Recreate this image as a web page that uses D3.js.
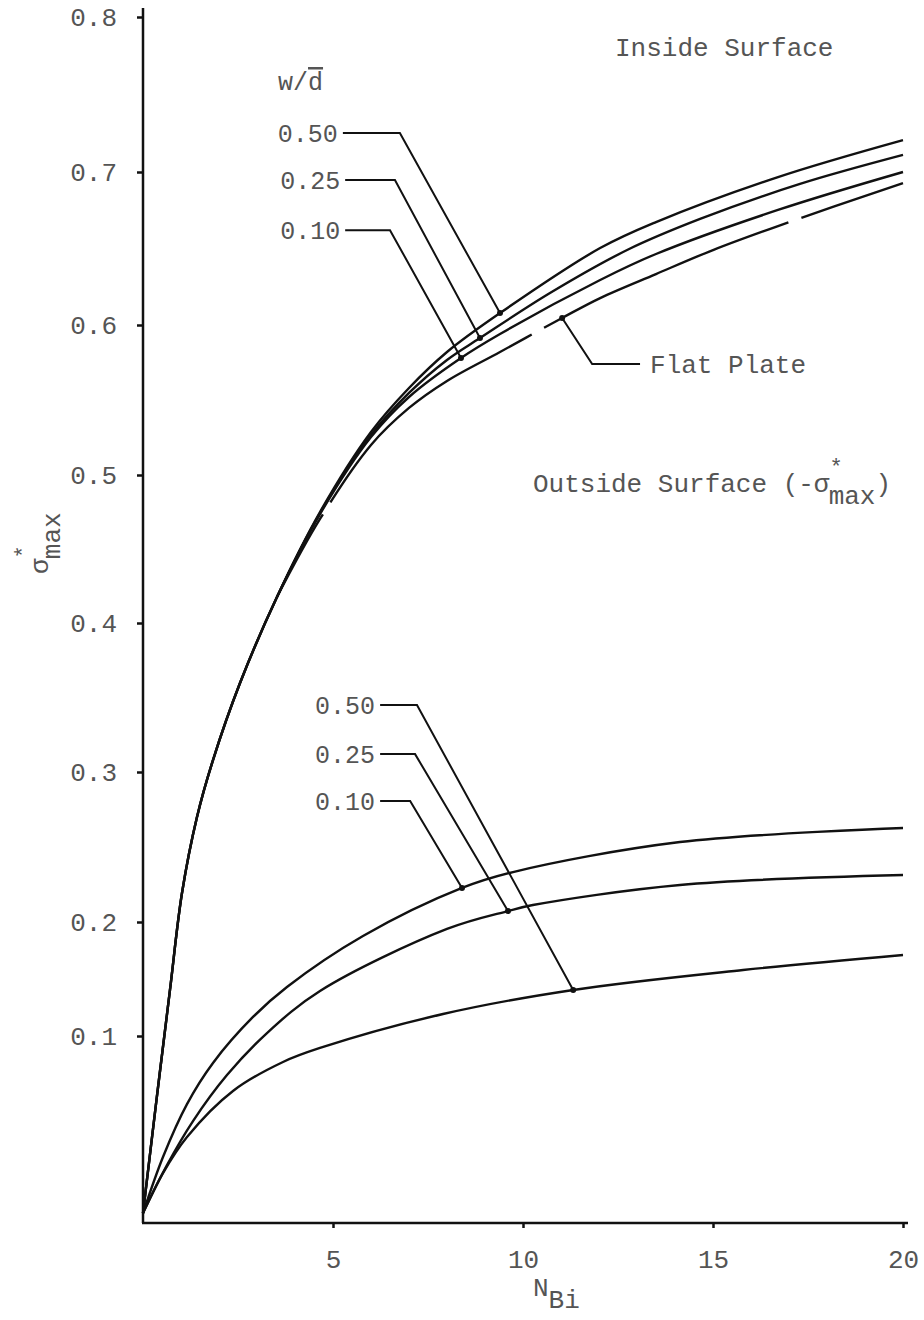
<!DOCTYPE html>
<html><head><meta charset="utf-8">
<script src="https://cdn.jsdelivr.net/npm/d3@7"></script>
<style>
body{margin:0;background:#fff;}
text{font-family:"Liberation Mono","DejaVu Sans Mono",monospace;fill:#555;}
</style></head>
<body><svg id="c" width="924" height="1320"></svg>
<script>
// ---- data ----
const yTicks = [0.1,0.2,0.3,0.4,0.5,0.6,0.7,0.8];
const xTicks = [5,10,15,20];
const insideCommon = [[0,0.0053],[0.355,0.0658],[0.71,0.1404],[1.026,0.2193],[1.421,0.27],[1.842,0.308],[2.553,0.3597],[3.526,0.4176]];
const inside050 = insideCommon.concat([[4.658,0.475],[6.0,0.5287],[7.0,0.558],[8.0,0.582],[9.395,0.6078],[12.03,0.6503],[13.5,0.6673],[16.71,0.6967],[20,0.7206]]);
const inside025 = insideCommon.concat([[4.658,0.4743],[6.0,0.5267],[7.0,0.5547],[8.0,0.5767],[8.868,0.5913],[10.71,0.6209],[12.74,0.649],[14.66,0.6693],[17.29,0.6922],[20,0.711]]);
const inside010 = insideCommon.concat([[4.658,0.4736],[6.0,0.5253],[7.0,0.552],[8.368,0.578],[9.395,0.594],[12.03,0.6294],[13.5,0.6464],[16.71,0.6752],[20,0.700]]);
const flatPlate = [[3.526,0.4176],[4.658,0.4703],[6.0,0.52],[7.0,0.5447],[8.0,0.5627],[9.395,0.582],[11.03,0.6046],[12.03,0.6176],[13.5,0.6333],[15.0,0.649],[16.71,0.6647],[20,0.6928]];
const outside010 = [[0,0.0053],[0.526,0.0353],[1.158,0.0636],[1.842,0.0856],[2.895,0.1167],[3.789,0.143],[5.789,0.1877],[8.395,0.2227],[9.737,0.2333],[14.13,0.2533],[20,0.2627]];
const outside025 = [[0,0.0053],[0.632,0.031],[1.316,0.0545],[2.21,0.0791],[3.263,0.1026],[4.658,0.1395],[8.0,0.1939],[9.605,0.2073],[10.26,0.2113],[14.13,0.2247],[20,0.2313]];
const outside050 = [[0,0.0053],[0.526,0.0267],[1.158,0.046],[2.368,0.0706],[3.684,0.0861],[4.658,0.0936],[7.895,0.1193],[11.32,0.1404],[15.79,0.1579],[20,0.1711]];
// leader annotations: [label, textV, startN, elbowN, targetN, targetV]
const insideLabels = [["0.50",0.7252,5.26,6.76,9.395,0.6078],["0.25",0.6948,5.32,6.63,8.868,0.5913],["0.10",0.662,5.32,6.5,8.368,0.578]];
const outsideLabels = [["0.50",0.345,6.24,7.21,11.32,0.1404],["0.25",0.312,6.24,7.16,9.605,0.2073],["0.10",0.2807,6.24,7.03,8.395,0.2227]];
const flatLeader = [[11.03,0.6046],[11.82,0.574],[13.08,0.574]];
const flatGapsN = [10.39,17.16];

// ---- scales ----
const svg = d3.select("#c");
const x = d3.scaleLinear().domain([0,20]).range([143,903]);
const y = d3.scaleLinear().domain([0,0.1,0.2,0.3,0.4,0.5,0.6,0.7,0.8]).range([1223,1036,922,772,623,475,325,172,17]);

// axes
const ya = svg.append("g").attr("transform","translate(143,0)")
  .call(d3.axisLeft(y).tickValues(yTicks).tickSize(6).tickPadding(20).tickFormat(d3.format(".1f")));
const xa = svg.append("g").attr("transform","translate(0,1223)")
  .call(d3.axisBottom(x).tickValues(xTicks).tickSize(5).tickPadding(22).tickFormat(d3.format("d")));
[ya,xa].forEach(g=>{
  g.select(".domain").remove();
  g.selectAll(".tick line").attr("stroke","#111").attr("stroke-width",2.5);
  g.selectAll(".tick text").style("font-family","Liberation Mono").style("font-size","26px").attr("fill","#555");
});
svg.append("line").attr("x1",143).attr("x2",143).attr("y1",y(0)).attr("y2",y(0.8)-9).attr("stroke","#111").attr("stroke-width",2.5);
svg.append("line").attr("x1",142).attr("x2",x(20)+5).attr("y1",y(0)).attr("y2",y(0)).attr("stroke","#111").attr("stroke-width",2.5);

// curves
const line = d3.line().x(d=>x(d[0])).y(d=>y(d[1])).curve(d3.curveCatmullRom.alpha(0.5));
[inside050,inside025,inside010,outside010,outside025,outside050].forEach(s=>{
  svg.append("path").datum(s).attr("d",line).attr("fill","none").attr("stroke","#111").attr("stroke-width",2.4);
});
const fp = svg.append("path").datum(flatPlate).attr("d",line).attr("fill","none").attr("stroke","#111").attr("stroke-width",2.4);
// dash pattern aligned to the gaps seen in the reference
(function(){
  const node = fp.node(), L = node.getTotalLength();
  function lenAtX(px){ let lo=0,hi=L; for(let i=0;i<40;i++){const m=(lo+hi)/2; if(node.getPointAtLength(m).x<px) lo=m; else hi=m;} return (lo+hi)/2; }
  const l1 = lenAtX(x(flatGapsN[0])), l2 = lenAtX(x(flatGapsN[1]));
  const period = l2-l1, gap = 14;
  let off = (period - gap/2 - l1) % period; if(off<0) off+=period;
  fp.attr("stroke-dasharray",`${period-gap},${gap}`).attr("stroke-dashoffset",off);
})();

// leaders
function leader(a){
  const [lab,tv,sN,eN,tN,tV]=a;
  svg.append("path").attr("d",d3.line()([[x(sN),y(tv)],[x(eN),y(tv)],[x(tN),y(tV)]]))
    .attr("fill","none").attr("stroke","#111").attr("stroke-width",2);
  svg.append("circle").attr("cx",x(tN)).attr("cy",y(tV)).attr("r",3).attr("fill","#111");
  svg.append("text").attr("x",x(sN)-5).attr("y",y(tv)).attr("dy","0.35em").attr("text-anchor","end")
    .style("font-size","25px").text(lab);
}
insideLabels.forEach(leader);
outsideLabels.forEach(leader);
svg.append("path").attr("d",d3.line()(flatLeader.map(d=>[x(d[0]),y(d[1])]))).attr("fill","none").attr("stroke","#111").attr("stroke-width",2);
svg.append("circle").attr("cx",x(flatLeader[0][0])).attr("cy",y(flatLeader[0][1])).attr("r",3).attr("fill","#111");
svg.append("text").attr("x",x(flatLeader[2][0])+10).attr("y",y(flatLeader[2][1])).attr("dy","0.35em").style("font-size","26px").text("Flat Plate");

// texts
svg.append("text").attr("x",615).attr("y",56).style("font-size","26px").text("Inside Surface");
const wd = svg.append("text").attr("x",278).attr("y",90).style("font-size","25px");
wd.append("tspan").text("w/");
wd.append("tspan").style("text-decoration","overline").text("d");
const os = svg.append("text").attr("x",533).attr("y",492).style("font-size","26px");
os.append("tspan").text("Outside Surface (-σ");
os.append("tspan").attr("dy",-18).style("font-size","22px").text("*");
os.append("tspan").attr("dx",-14).attr("dy",30).text("max");
os.append("tspan").attr("dy",-12).text(")");
const yt = svg.append("text").attr("transform","translate(48,574) rotate(-90)").style("font-size","26px");
yt.append("tspan").text("σ");
yt.append("tspan").attr("dy",-18).style("font-size","22px").text("*");
yt.append("tspan").attr("dx",-14).attr("dy",30).text("max");
const xt = svg.append("text").attr("x",533).attr("y",1296).style("font-size","26px");
xt.append("tspan").text("N");
xt.append("tspan").attr("dy",12).text("Bi");
</script></body></html>
